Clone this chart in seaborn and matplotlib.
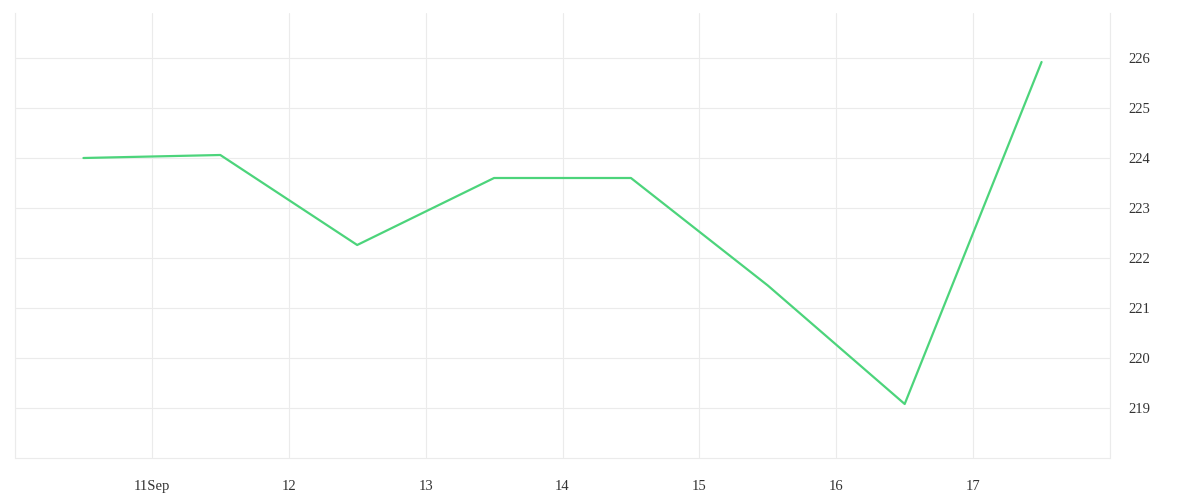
import numpy as np
import pandas as pd
import matplotlib.pyplot as plt
import matplotlib.dates as mdates
import seaborn as sns

# data (points sit at midday)
times = ['2023-09-10 12:00', '2023-09-11 12:00', '2023-09-12 12:00', '2023-09-13 12:00',
         '2023-09-14 12:00', '2023-09-15 12:00', '2023-09-16 12:00', '2023-09-17 12:00']
values = [224.0, 224.06, 222.26, 223.6, 223.6, 221.45, 219.08, 225.92]
tick_days = ['2023-09-10', '2023-09-11', '2023-09-12', '2023-09-13', '2023-09-14',
             '2023-09-15', '2023-09-16', '2023-09-17', '2023-09-18']
tick_labels = ['', '11Sep', '12', '13', '14', '15', '16', '17', '']
y_ticks = [219, 220, 221, 222, 223, 224, 225, 226]

df = pd.DataFrame({'time': pd.to_datetime(times), 'value': values})

sns.set_style('white')
plt.rcParams['font.family'] = ['Liberation Serif', 'DejaVu Serif']

grid_c = '#ebebeb'
fig = plt.figure(figsize=(12, 5), dpi=100)
ax = fig.add_axes([0.0125, 0.084, 0.9125, 0.89])

sns.lineplot(data=df, x='time', y='value', color='#4cd47b', linewidth=1.6, ax=ax)

ax.set_xlim(pd.Timestamp('2023-09-10'), pd.Timestamp('2023-09-18'))
ax.set_ylim(218, 226.9)
ax.set_xticks(pd.to_datetime(tick_days))
ax.set_xticklabels(tick_labels)
ax.set_yticks(y_ticks)
ax.yaxis.tick_right()

ax.grid(True, color=grid_c, linewidth=0.8)
# bottom line at 218 (sits on the axes edge)
ax.axhline(218, color=grid_c, linewidth=0.8, clip_on=False, zorder=0)
ax.tick_params(axis='x', length=7.5, width=0.8, color=grid_c, pad=8,
               labelsize=10.5, labelcolor='#333333')
ax.tick_params(axis='y', length=0, pad=13, labelsize=10.5, labelcolor='#333333')
ax.set_xlabel('')
ax.set_ylabel('')

for side in ['left', 'right']:
    ax.spines[side].set_color(grid_c)
    ax.spines[side].set_linewidth(0.8)
ax.spines['bottom'].set_visible(False)
ax.spines['top'].set_visible(False)

plt.savefig('out.png', dpi=100)
